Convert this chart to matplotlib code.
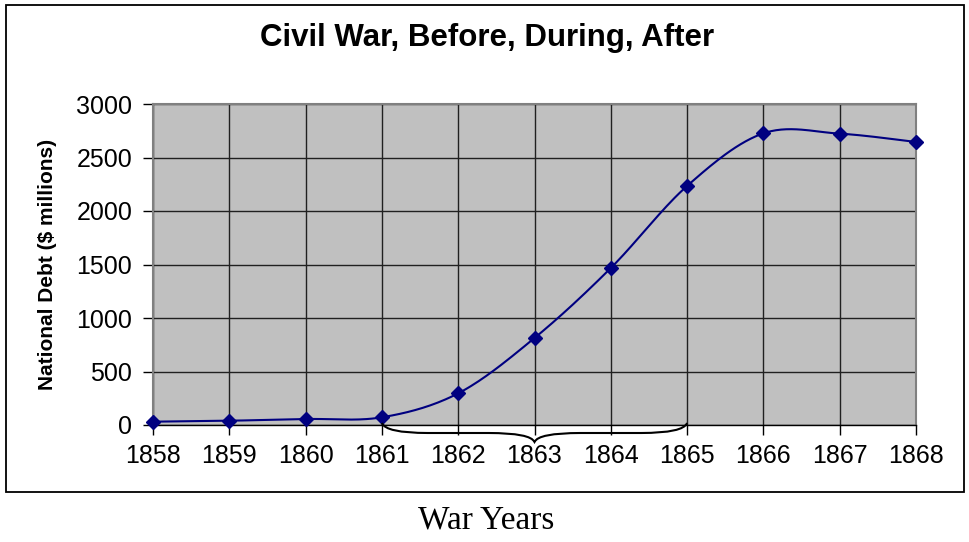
import numpy as np
import matplotlib
matplotlib.use("Agg")
import matplotlib.pyplot as plt
from matplotlib.path import Path
from matplotlib.patches import PathPatch, Rectangle
import matplotlib.transforms as mtransforms

years = [1858, 1859, 1860, 1861, 1862, 1863, 1864, 1865, 1866, 1867, 1868]
debt = [31, 40, 56, 72, 296, 813, 1467, 2234, 2726, 2723, 2645]
y_ticks = [0, 500, 1000, 1500, 2000, 2500, 3000]
war_start, war_end = 1861, 1865

plt.rcParams["font.family"] = ["Liberation Sans", "DejaVu Sans"]


def smooth(xs, ys, n=30):
    # excel-like smoothed line: catmull-rom through the points
    xs = np.asarray(xs, float)
    ys = np.asarray(ys, float)
    px = np.concatenate([[xs[0]], xs, [xs[-1]]])
    py = np.concatenate([[ys[0]], ys, [ys[-1]]])
    out_x, out_y = [], []
    t = np.linspace(0, 1, n, endpoint=False)
    for i in range(1, len(px) - 2):
        x0, x1, x2, x3 = px[i - 1:i + 3]
        y0, y1, y2, y3 = py[i - 1:i + 3]
        cx1, cy1 = x1 + (x2 - x0) / 6, y1 + (y2 - y0) / 6
        cx2, cy2 = x2 - (x3 - x1) / 6, y2 - (y3 - y1) / 6
        bx = (1 - t) ** 3 * x1 + 3 * (1 - t) ** 2 * t * cx1 + 3 * (1 - t) * t ** 2 * cx2 + t ** 3 * x2
        by = (1 - t) ** 3 * y1 + 3 * (1 - t) ** 2 * t * cy1 + 3 * (1 - t) * t ** 2 * cy2 + t ** 3 * y2
        out_x.extend(bx)
        out_y.extend(by)
    out_x.append(xs[-1])
    out_y.append(ys[-1])
    return np.array(out_x), np.array(out_y)


fig = plt.figure(figsize=(9.69, 5.42), dpi=100)
fig.patch.set_facecolor("white")

# outer chart border
fig.patches.append(Rectangle((6 / 969, 50 / 542), 958 / 969, 487 / 542,
                             transform=fig.transFigure, fill=False,
                             edgecolor="black", linewidth=1.3))

ax = fig.add_axes([153 / 969, 117 / 542, 763 / 969, 321 / 542])
ax.set_facecolor("#C0C0C0")
ax.set_xlim(years[0], years[-1])
ax.set_ylim(0, 3000)
ax.set_xticks(years)
ax.set_yticks(y_ticks)
ax.tick_params(axis="both", labelsize=18, length=7, width=1, color="black")
ax.tick_params(axis="y", pad=8)
ax.tick_params(axis="x", pad=7)
for s in ax.spines.values():
    s.set_color("#808080")
    s.set_linewidth(1.5)
ax.spines["bottom"].set_color("black")
ax.spines["bottom"].set_linewidth(1)
ax.grid(True, color="#202020", linewidth=1)
ax.set_axisbelow(True)

sx, sy = smooth(years, debt)
ax.plot(sx, sy, color="#000080", linewidth=1.5, clip_on=False)
ax.plot(years, debt, linestyle="none", marker="D", markersize=7,
        color="#000080", clip_on=False, zorder=5)

fig.text(487 / 969, 1 - 38 / 542, "Civil War, Before, During, After",
         ha="center", va="center", fontsize=22.5, fontweight="bold")
ax.set_ylabel("National Debt ($ millions)", fontsize=15, fontweight="bold", labelpad=14)

# curly brace under the war years
px_h = 321.0
lvl, tip, end = -8 / px_h, -17 / px_h, 2 / px_h
mid = (war_start + war_end) / 2
verts = [(war_start, end),
         (war_start + 0.05, lvl), (war_start + 0.6, lvl),
         (mid - 0.6, lvl),
         (mid - 0.05, lvl), (mid, tip),
         (mid + 0.05, lvl), (mid + 0.6, lvl),
         (war_end - 0.6, lvl),
         (war_end - 0.05, lvl), (war_end, end)]
codes = [Path.MOVETO, Path.CURVE3, Path.CURVE3, Path.LINETO,
         Path.CURVE3, Path.CURVE3, Path.CURVE3, Path.CURVE3,
         Path.LINETO, Path.CURVE3, Path.CURVE3]
trans = mtransforms.blended_transform_factory(ax.transData, ax.transAxes)
ax.add_patch(PathPatch(Path(verts, codes), transform=trans, fill=False,
                       edgecolor="black", linewidth=1.5, clip_on=False, zorder=6))

fig.text(486 / 969, 1 - 520 / 542, "War Years", ha="center", va="center",
         fontsize=24, family=["Liberation Serif", "DejaVu Serif"])

fig.savefig("out.png", dpi=100)
